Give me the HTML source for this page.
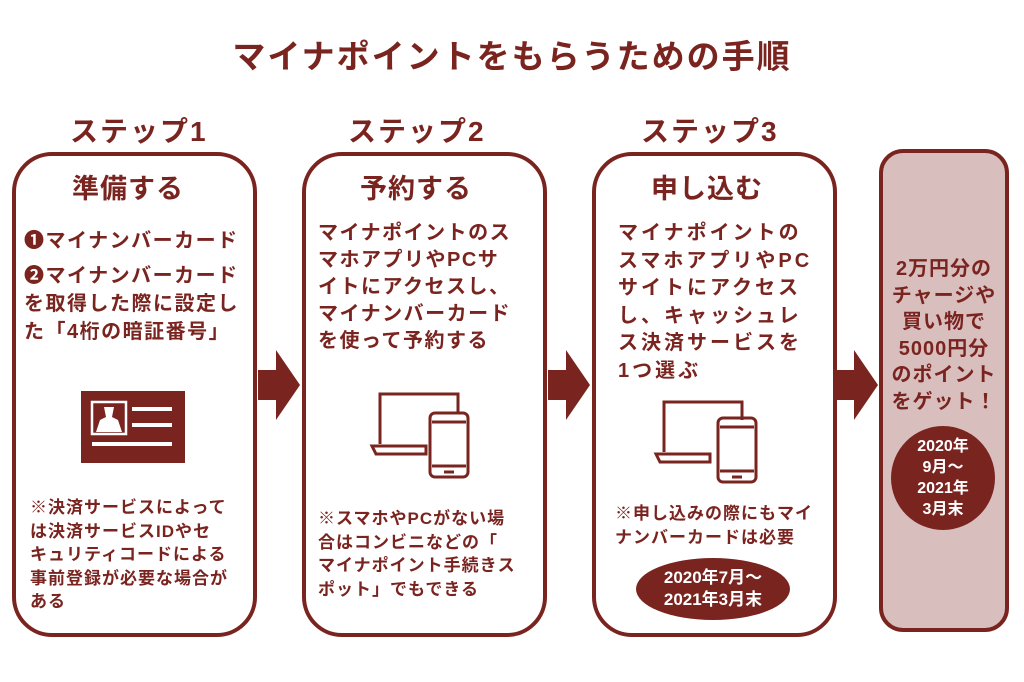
<!DOCTYPE html>
<html><head><meta charset="utf-8"><style>
*{margin:0;padding:0;box-sizing:border-box}
body{width:1024px;height:682px;background:#fff;position:relative;overflow:hidden;font-family:"Liberation Sans","Noto Sans CJK JP",sans-serif;font-weight:bold;color:#7a2420}
.a{position:absolute;white-space:nowrap}
.box{position:absolute;border:4px solid #7a2420;border-radius:40px;background:#fff}
.t{font-size:20px;letter-spacing:1.5px}
.n{font-size:17px;letter-spacing:1px;line-height:23.5px}
.arr{position:absolute;width:42px;height:70px}
.h{font-size:27px;letter-spacing:1px}
</style></head><body>
<div class="a" style="left:0;width:1024px;text-align:center;top:30px;font-size:33px;letter-spacing:2px">マイナポイントをもらうための手順</div>
<div class="a h" style="left:70px;top:110px;font-size:28px;letter-spacing:2px">ステップ1</div>
<div class="a h" style="left:348px;top:110px;font-size:28px;letter-spacing:2px">ステップ2</div>
<div class="a h" style="left:641px;top:110px;font-size:28px;letter-spacing:2px">ステップ3</div>

<div class="box" style="left:12px;top:152px;width:245px;height:485px"></div>
<div class="box" style="left:302px;top:152px;width:245px;height:485px"></div>
<div class="box" style="left:592px;top:152px;width:245px;height:485px"></div>
<div class="box" style="left:879px;top:149px;width:130px;height:483px;background:#d9bebe;border-radius:24px"></div>

<div class="a h" style="left:72px;top:167px">準備する</div>
<div class="a h" style="left:360px;top:167px">予約する</div>
<div class="a h" style="left:651px;top:167px">申し込む</div>

<div class="a t" style="left:24px;top:224px">❶マイナンバーカード</div>
<div class="a t" style="left:24px;top:262px;line-height:28px">❷マイナンバーカード<br>を取得した際に設定し<br>た「4桁の暗証番号」</div>

<svg class="a" style="left:80px;top:390px" width="106" height="74"><rect x="1" y="1" width="104" height="72" fill="#7a2420"/><rect x="12" y="12" width="34" height="32" fill="none" stroke="#fff" stroke-width="2.5"/><path d="M16 42 L20 30 L26 27 L24 17 L34 17 L32 27 L38 30 L42 42Z" fill="#fff"/><rect x="52" y="17" width="40" height="4" fill="#fff"/><rect x="52" y="33" width="40" height="4" fill="#fff"/><rect x="12" y="52" width="80" height="4" fill="#fff"/></svg>

<div class="a n" style="left:30px;top:496px">※決済サービスによって<br>は決済サービスIDやセ<br>キュリティコードによる<br>事前登録が必要な場合が<br>ある</div>

<div class="a t" style="left:318px;top:220px;line-height:27px">マイナポイントのス<br>マホアプリやPCサ<br>イトにアクセスし、<br>マイナンバーカード<br>を使って予約する</div>
<div class="a n" style="left:318px;top:507px">※スマホやPCがない場<br>合はコンビニなどの「<br>マイナポイント手続きス<br>ポット」でもできる</div>

<div class="a t" style="left:618px;top:220px;line-height:27.5px;letter-spacing:3px">マイナポイントの<br>スマホアプリやPC<br>サイトにアクセス<br>し、キャッシュレ<br>ス決済サービスを<br>1つ選ぶ</div>
<div class="a n" style="left:615px;top:502px">※申し込みの際にもマイ<br>ナンバーカードは必要</div>

<svg class="a" style="left:368px;top:388px" width="110" height="95"><g fill="none" stroke="#7a2420" stroke-width="3"><path d="M12 56 V6 H90 V24"/><path d="M4 58 H58 V66 H8 Z"/><rect x="62" y="25" width="38" height="64" rx="5"/><line x1="64" y1="78" x2="98" y2="78"/><line x1="64" y1="34" x2="98" y2="34"/><line x1="76" y1="84" x2="86" y2="84"/></g></svg>
<svg class="a" style="left:652px;top:396px" width="110" height="95"><g fill="none" stroke="#7a2420" stroke-width="3"><path d="M12 56 V6 H90 V24"/><path d="M4 58 H58 V66 H8 Z"/><rect x="66" y="22" width="38" height="64" rx="5"/><line x1="68" y1="75" x2="102" y2="75"/><line x1="68" y1="31" x2="102" y2="31"/><line x1="80" y1="81" x2="90" y2="81"/></g></svg>

<div class="a" style="left:636px;top:558px;width:154px;height:62px;border-radius:50%;background:#7a2420;color:#fff;font-size:17px;text-align:center;line-height:22px;padding-top:9px">2020年7月～<br>2021年3月末</div>

<div class="a" style="left:883px;top:256px;width:122px;text-align:center;font-size:20px;line-height:26.5px;letter-spacing:1px">2万円分の<br>チャージや<br>買い物で<br>5000円分<br>のポイント<br>をゲット！</div>
<div class="a" style="left:891px;top:426px;width:104px;height:104px;border-radius:50%;background:#7a2420;color:#fff;font-size:16px;text-align:center;line-height:21px;padding-top:10px">2020年<br>9月～<br>2021年<br>3月末</div>

<svg class="arr" style="left:258px;top:350px" viewBox="0 0 42 70"><path d="M0 20 H18 V0 L42 35 L18 70 V50 H0Z" fill="#7a2420"/></svg>
<svg class="arr" style="left:548px;top:350px" viewBox="0 0 42 70"><path d="M0 20 H18 V0 L42 35 L18 70 V50 H0Z" fill="#7a2420"/></svg>
<svg class="arr" style="left:836px;top:350px" viewBox="0 0 42 70"><path d="M0 20 H18 V0 L42 35 L18 70 V50 H0Z" fill="#7a2420"/></svg>
</body></html>
